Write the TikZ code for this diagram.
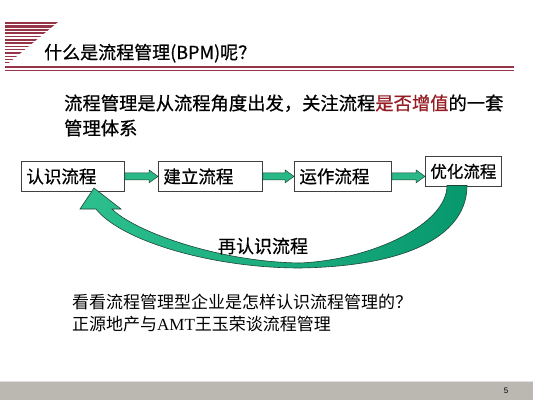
\documentclass[tikz,border=0pt]{standalone}
\usepackage{fontspec}
\setmainfont{Liberation Sans}
\newfontfamily\cjk{Noto Sans CJK SC}
\newfontfamily\cjkb[FakeBold=0.7]{Noto Sans CJK SC}
\newfontfamily\serifen{Liberation Serif}
\usetikzlibrary{calc}
\definecolor{maroon}{RGB}{150,52,72}
\definecolor{agreen}{RGB}{40,185,135}
\definecolor{agreenL}{RGB}{45,192,142}
\definecolor{agreenD}{RGB}{8,152,110}
\definecolor{aline}{RGB}{30,70,55}
\definecolor{dred}{RGB}{150,28,36}
\definecolor{footgray}{RGB}{187,184,177}
\newcommand\blockarrow[2]{%
  \path[draw=aline, fill=agreen, line width=0.5pt]
    let \p1=(#1.east), \p2=(#2.west) in
    (\x1,\y1+3.5pt) -- (\x2-9pt,\y1+3.5pt) -- (\x2-9pt,\y1+6.5pt) -- (\x2,\y1)
    -- (\x2-9pt,\y1-6.5pt) -- (\x2-9pt,\y1-3.5pt) -- (\x1,\y1-3.5pt) -- cycle;}
\begin{document}
\begin{tikzpicture}[x=1pt,y=-1pt,
  box/.style={draw=black!75, line width=0.8pt, fill=white, inner xsep=5pt, inner ysep=0pt,
    minimum height=30pt, align=left, anchor=north west,
    font=\cjkb\fontsize{17.5}{20}\selectfont},
  txt/.style={anchor=base west, inner sep=0pt},
  stripe/.style={draw=maroon}]
\useasboundingbox (0,0) rectangle (533,400);
\fill[white] (0,0) rectangle (533,400);
% header decoration
\begin{scope}
  \clip (5,22) -- (58,22) -- (5,66) -- cycle;
  \foreach \i in {0,...,12}{
    \draw[stripe, line width={2.2pt-\i*0.1pt}] (4,{23.2+\i*3.3}) -- (60,{23.2+\i*3.3});
  }
\end{scope}
\draw[maroon, line width=1.5pt] (5,67) -- (514,67);
\draw[maroon, line width=1.3pt] (5,70.5) -- (514,70.5);
% title
\node[txt, font=\cjkb\fontsize{18}{20}\selectfont] (title) at (44,59) {什么是流程管理(BPM)呢？};
% intro
\node[txt, font=\cjkb\fontsize{18.3}{22}\selectfont] (intro1) at (64,110)
  {流程管理是从流程角度出发，关注流程\textcolor{dred}{是否增值}的一套};
\node[txt, font=\cjkb\fontsize{18.3}{22}\selectfont] (intro2) at (64,135) {管理体系};
% boxes
\node[box, text width=93pt] (b1) at (21,161) {认识流程};
\node[box, text width=94pt] (b2) at (158,161) {建立流程};
\node[box, text width=87pt] (b3) at (294,161) {运作流程};
\node[box, text width=68pt, inner xsep=4pt, align=center, font=\cjkb\fontsize{16.5}{20}\selectfont] (b4) at (425,156) {优化流程};
\blockarrow{b1}{b2}
\blockarrow{b2}{b3}
\blockarrow{b3}{b4}
% big return arrow
\path[draw=aline, line width=0.6pt, left color=agreenL, right color=agreenD]
  (94,188) -- (121,209) -- (112,209)
  .. controls (135,232) and (220,262) .. (300,263)
  .. controls (370,260) and (447,225) .. (447,185.5)
  -- (467,185.5)
  .. controls (467,232) and (415,266) .. (300,268)
  .. controls (210,268) and (120,240) .. (96,209)
  -- (80,209) -- cycle;
\node[font=\cjkb\fontsize{18}{20}\selectfont] (again) at (263,246) {再认识流程};
% bottom text
\node[txt, font=\cjk\fontsize{17}{20}\selectfont] (q1) at (72,308) {看看流程管理型企业是怎样认识流程管理的？};
\node[txt, font=\cjk\fontsize{17}{20}\selectfont] (q2) at (72,330) {正源地产与{\serifen AMT}王玉荣谈流程管理};
% footer
\fill[footgray] (0,382) rectangle (533,400);
\draw[black!12, line width=1pt] (0,381) -- (533,381);
\node[font=\fontsize{8}{9}\selectfont] (pg) at (506,391) {5};
\end{tikzpicture}
\end{document}
